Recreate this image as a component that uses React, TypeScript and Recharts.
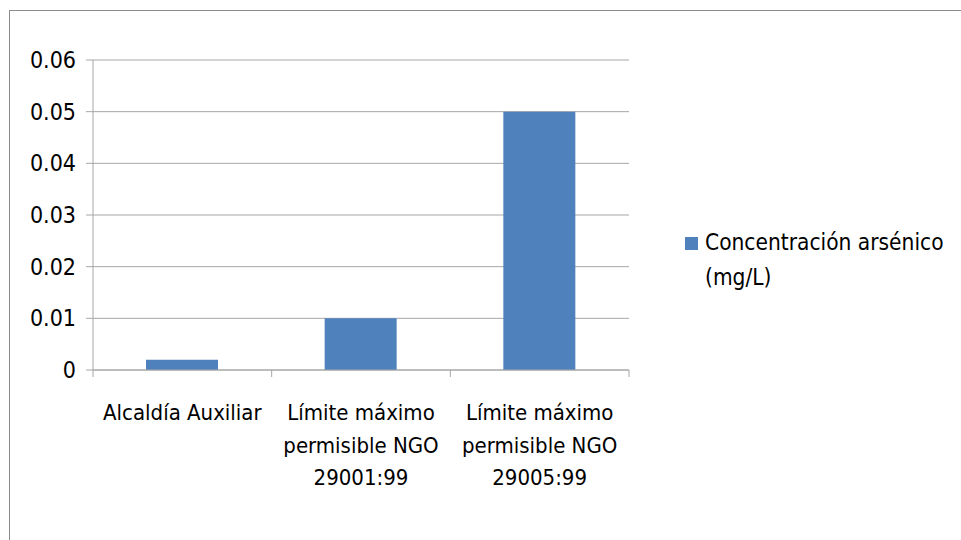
import { Bar, BarChart, CartesianGrid, XAxis, YAxis } from 'recharts'

const categories = [
  ['Alcaldía Auxiliar'],
  ['Límite máximo', 'permisible NGO', '29001:99'],
  ['Límite máximo', 'permisible NGO', '29005:99']
]
const arsenicValues = [0.002, 0.01, 0.05]
const yTicks = [0, 0.01, 0.02, 0.03, 0.04, 0.05, 0.06]
const seriesName = ['Concentración arsénico', '(mg/L)']

const data = categories.map((lines, i) => ({
  label: lines.join(' '),
  lines,
  value: arsenicValues[i]
}))

const FONT = '"DejaVu Sans Condensed", "Liberation Sans Narrow", "Open Sans", sans-serif'
const GRID = '#a6a6a6'
const BAR = '#4f81bd'

// category labels plus the small boundary tick marks between categories
function CategoryTick({ x, y, payload, index }: any) {
  const lines = data[payload.index ?? index]?.lines ?? [String(payload.value)]
  const half = payload.offset ?? 0
  const axisY = y - 8
  const isLast = (payload.index ?? index) === data.length - 1
  return (
    <g>
      <line x1={x - half} x2={x - half} y1={axisY} y2={axisY + 7} stroke={GRID} />
      {isLast ? <line x1={x + half} x2={x + half} y1={axisY} y2={axisY + 7} stroke={GRID} /> : null}
      <text x={x} y={y + 42} textAnchor="middle" fill="#000" fontSize={22} fontFamily={FONT}>
        {lines.map((line: string, i: number) => (
          <tspan key={i} x={x} dy={i === 0 ? 0 : 32.5}>
            {line}
          </tspan>
        ))}
      </text>
    </g>
  )
}

export default function App() {
  return (
    <div style={{ position: 'absolute', left: 0, top: 0, width: 961, height: 540, background: '#fff', overflow: 'hidden' }}>
      <div style={{ position: 'absolute', left: 9, top: 10, width: 1000, height: 600, border: '1px solid #8c8c8c' }} />
      <div style={{ position: 'absolute', left: 0, top: 0 }}>
        <BarChart width={961} height={540} data={data} margin={{ top: 60, right: 332, bottom: 0, left: 0 }}>
          <CartesianGrid vertical={false} stroke={GRID} />
          <XAxis
            dataKey="label"
            height={170}
            axisLine={{ stroke: GRID }}
            tickLine={false}
            interval={0}
            tick={<CategoryTick />}
          />
          <YAxis
            width={93}
            domain={[0, 0.06]}
            ticks={yTicks}
            axisLine={{ stroke: GRID }}
            tickLine={{ stroke: GRID }}
            tickSize={7}
            tickMargin={10}
            tick={{ fill: '#000', fontSize: 23, fontFamily: FONT }}
          />
          <Bar dataKey="value" name={seriesName.join(' ')} fill={BAR} barSize={72} isAnimationActive={false} />
        </BarChart>
      </div>
      <div
        style={{
          position: 'absolute',
          left: 685,
          top: 225,
          display: 'flex',
          alignItems: 'flex-start',
          fontFamily: FONT,
          fontSize: 22.5,
          lineHeight: '35px',
          color: '#000'
        }}
      >
        <span style={{ width: 13, height: 13, background: BAR, marginTop: 12, marginRight: 7, flex: 'none' }} />
        <span style={{ width: 268, whiteSpace: 'nowrap' }}>
          {seriesName[0]}
          <br />
          {seriesName[1]}
        </span>
      </div>
    </div>
  )
}
